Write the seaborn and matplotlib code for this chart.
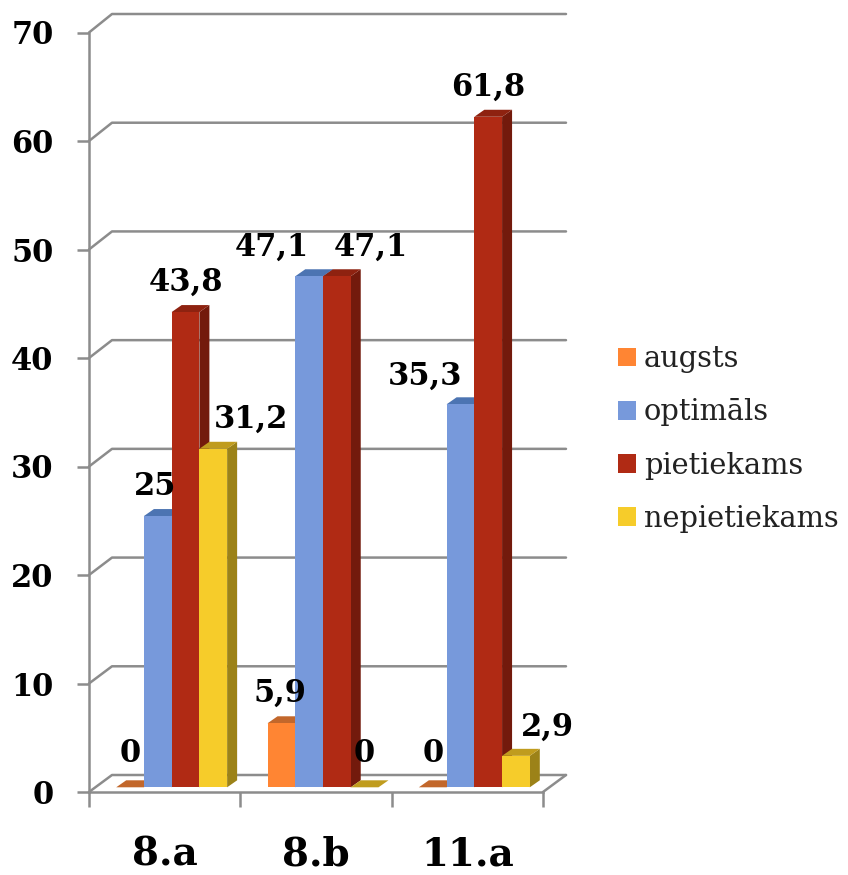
import matplotlib
matplotlib.use("Agg")
import matplotlib.pyplot as plt
from matplotlib.patches import Polygon
import pandas as pd
import seaborn as sns

# ---- data ----
categories = ["8.a", "8.b", "11.a"]
levels = ["augsts", "optimāls", "pietiekams", "nepietiekams"]
augsts = [0, 5.9, 0]
optimals = [25, 47.1, 35.3]
pietiekams = [43.8, 47.1, 61.8]
nepietiekams = [31.2, 0, 2.9]
y_ticks = [0, 10, 20, 30, 40, 50, 60, 70]

# ---- style ----
front_colors = ["#FF8533", "#7799DB", "#B02A14", "#F6CC2A"]
top_colors = ["#C2672B", "#4C74B2", "#8E2210", "#C09C1E"]
side_colors = ["#A85A25", "#3F6199", "#731A0C", "#9C8218"]
GRID = "#8C8C8C"
FONT = "DejaVu Serif"
# label offsets in pixels from the centre of each bar's top (series by series, per category)
label_dx = [[0, -1, 0], [-3, -37, -35], [0, 34, 0], [38, 0, 32]]
label_dy = [[25, 22, 25], [21, 20, 20], [21, 20, 21], [21, 25, 20]]

W, H = 848, 875
sns.set_theme(style="white")
plt.rcParams["font.family"] = [FONT, "DejaVu Sans"]
fig = plt.figure(figsize=(W / 100, H / 100), dpi=100)

X0, X1, Y0, Y70 = 89.0, 543.0, 792.0, 32.5  # plot frame in pixels
wall = fig.add_axes([X0 / W, 1 - Y0 / H, (X1 - X0) / W, (Y0 - Y70) / H])
bars = fig.add_axes([(X0 + 7.0) / W, 1 - (Y0 - 4.7) / H, (X1 - X0) / W, (Y0 - Y70) / H])
bars.patch.set_alpha(0)
XLIM = (-0.5, 2.5)
YLIM = (0, 70)
px_x = (XLIM[1] - XLIM[0]) / (X1 - X0)
px_y = (YLIM[1] - YLIM[0]) / (Y0 - Y70)

# ---- walls ----
wall.set_xlim(*XLIM)
wall.set_ylim(*YLIM)
for s in ("top", "right"):
    wall.spines[s].set_visible(False)
for s in ("left", "bottom"):
    wall.spines[s].set_color(GRID)
    wall.spines[s].set_linewidth(1.8)
wall.set_yticks(y_ticks)
wall.set_xticks([-0.5, 0.5, 1.5, 2.5])
wall.set_xticklabels([])
wall.set_xticks(range(len(categories)), categories, minor=True)
wall.tick_params(axis="y", length=8.6, width=1.8, color=GRID, pad=17, left=True,
                 labelsize=22, labelcolor="black")
wall.tick_params(axis="x", which="major", length=10.5, width=1.8, color=GRID, bottom=True)
wall.tick_params(axis="x", which="minor", length=0, pad=31, labelsize=28, labelcolor="black")
for t in wall.get_yticklabels() + wall.get_xticklabels(minor=True):
    t.set_fontweight("bold")
    t.set_family(FONT)
back_dx = 23 * px_x
for v in y_ticks:
    back_dy = (17 + 1.5 * v / 70) * px_y
    wall.plot([XLIM[0], XLIM[0] + back_dx, XLIM[1] + back_dx],
              [v, v + back_dy, v + back_dy], color=GRID, lw=1.8,
              clip_on=False, zorder=1, solid_joinstyle="round")
wall.plot([XLIM[1], XLIM[1] + back_dx], [0, 17 * px_y], color=GRID, lw=1.8, clip_on=False, zorder=1)

# ---- bars ----
df = pd.DataFrame({
    "klase": categories * 4,
    "limenis": [lv for lv in levels for _ in categories],
    "vertiba": augsts + optimals + pietiekams + nepietiekams,
})
sns.barplot(data=df, x="klase", y="vertiba", hue="limenis", order=categories, hue_order=levels,
            palette=front_colors, saturation=1, width=0.733, gap=0, errorbar=None,
            linewidth=0, ax=bars, legend=False)
bars.set_xlim(*XLIM)
bars.set_ylim(*YLIM)
bars.axis("off")

ddx, ddy = 10 * px_x, 7 * px_y
for s, cont in enumerate(bars.containers):
    for c, rect in enumerate(cont.patches):
        x, w, h = rect.get_x(), rect.get_width(), rect.get_height()
        z = 2 + c * 1 + s * 0.1
        rect.set_zorder(z + 0.02)
        bars.add_patch(Polygon([(x + w, 0), (x + w + ddx, ddy), (x + w + ddx, h + ddy), (x + w, h)],
                               closed=True, fc=side_colors[s], ec="none", zorder=z, clip_on=False))
        bars.add_patch(Polygon([(x, h), (x + ddx, h + ddy), (x + w + ddx, h + ddy), (x + w, h)],
                               closed=True, fc=top_colors[s], ec="none", zorder=z + 0.01, clip_on=False))
        bars.annotate(f"{h:g}".replace(".", ","), xy=(x + w / 2, h),
                      xytext=(label_dx[s][c] * 0.72, label_dy[s][c] * 0.72),
                      textcoords="offset points", ha="center", va="baseline",
                      fontsize=22, fontweight="bold", family=FONT, color="black",
                      zorder=20, annotation_clip=False)

# ---- legend ----
handles = [plt.Rectangle((0, 0), 1, 1, fc=c, ec="none") for c in front_colors]
fig.legend(handles, levels, loc="center left", bbox_to_anchor=(618 / W, 1 - 439 / H),
           frameon=False, fontsize=20.8, labelspacing=0.87, handlelength=0.62, handleheight=0.62,
           handletextpad=0.28, borderpad=0, borderaxespad=0, labelcolor="#222222")

fig.savefig("out.png", dpi=100, facecolor="white")
